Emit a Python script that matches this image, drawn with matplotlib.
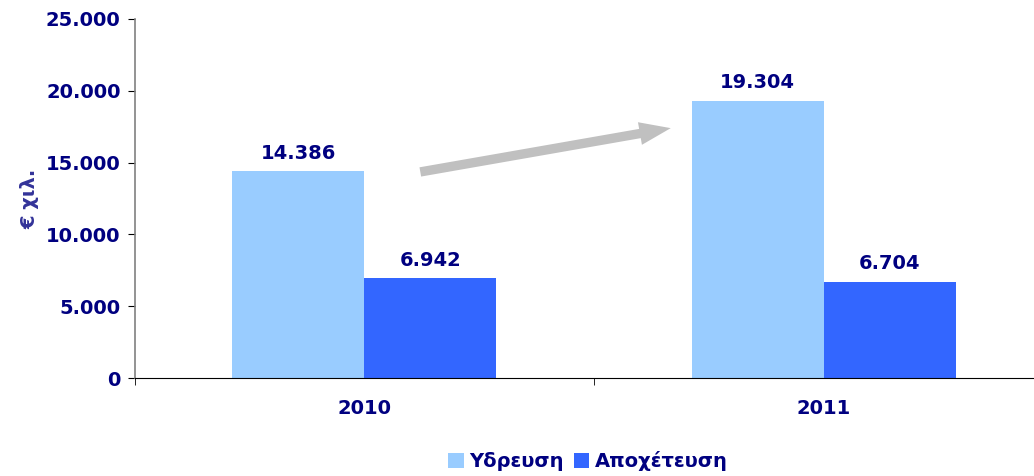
import matplotlib.pyplot as plt
import numpy as np
from matplotlib.ticker import FuncFormatter

years = ['2010', '2011']
ydreusi = [14386, 19304]
apoxeteusi = [6942, 6704]
series_names = ['Υδρευση', 'Αποχέτευση']
colors = ['#99CCFF', '#3366FF']
navy = '#000080'

plt.rcParams['font.family'] = ['DejaVu Sans']
plt.rcParams['font.weight'] = 'bold'
fs = 14

fig = plt.figure(figsize=(10.34, 4.76), dpi=100)
# axes runs a bit past the right edge, as in the original
ax = fig.add_axes([134.5/1034, 98/476, 919/1034, 359/476])

x = np.arange(len(years))
w = 0.287
b1 = ax.bar(x - w/2, ydreusi, w, color=colors[0], label=series_names[0])
b2 = ax.bar(x + w/2, apoxeteusi, w, color=colors[1], label=series_names[1])

fmt = lambda v: '{:,.0f}'.format(v).replace(',', '.')
for bars in (b1, b2):
    for r in bars:
        ax.annotate(fmt(r.get_height()), (r.get_x() + r.get_width()/2, r.get_height()),
                    xytext=(0, 6), textcoords='offset points', ha='center', va='bottom',
                    fontsize=fs, fontweight='bold', color=navy)

ax.set_xlim(-0.5, 1.5)
ax.set_ylim(0, 25000)
ax.set_yticks(np.arange(0, 25001, 5000))
ax.yaxis.set_major_formatter(FuncFormatter(lambda v, p: fmt(v)))
ax.set_xticks(x)
ax.set_xticklabels(years)
ax.set_xticks([-0.5, 0.5, 1.5], minor=True)
ax.tick_params(axis='x', which='major', length=0, pad=15, labelsize=fs, labelcolor=navy)
ax.tick_params(axis='x', which='minor', length=5, direction='out', color='black')
ax.tick_params(axis='y', length=5, direction='out', pad=5, labelsize=fs, labelcolor=navy, color='black')
for t in ax.get_xticklabels() + ax.get_yticklabels():
    t.set_fontweight('bold')

ax.spines['top'].set_visible(False)
ax.spines['right'].set_visible(False)
ax.spines['left'].set_color('#808080')
ax.spines['left'].set_linewidth(1.2)
ax.spines['bottom'].set_color('black')

ax.set_ylabel('€ χιλ.', fontsize=fs, fontweight='bold', color='#333399', labelpad=5)

# grey trend arrow between the two years
ax.annotate('', xy=(0.667, 17400), xytext=(0.122, 14350),
            arrowprops=dict(arrowstyle='simple,head_length=1.5,head_width=1.1,tail_width=0.45',
                            color='#C0C0C0', lw=0, shrinkA=0, shrinkB=0,
                            mutation_scale=15))

leg = fig.legend(loc='center', bbox_to_anchor=(588/1034, 1 - 461/476), ncol=2, frameon=False,
                 handlelength=0.8, handleheight=0.8, handletextpad=0.3, columnspacing=0.5,
                 prop={'size': fs, 'weight': 'bold'})
for t in leg.get_texts():
    t.set_color(navy)

fig.savefig('out.png', dpi=100)
